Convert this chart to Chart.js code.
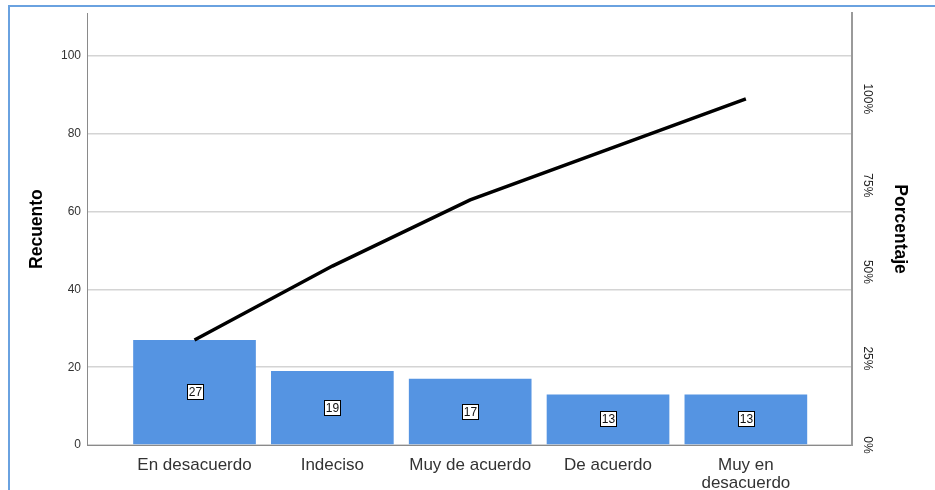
<!DOCTYPE html>
<html>
<head>
<meta charset="utf-8">
<script src="https://cdn.jsdelivr.net/npm/chart.js@4.4.1/dist/chart.umd.min.js"></script>
<style>
  body { margin: 0; background: #fff; }
  #wrap { position: relative; width: 935px; height: 490px; overflow: hidden; }
  #frame {
    position: absolute; left: 8px; top: 5px; right: -10px; bottom: -10px;
    border-top: 2px solid #6aa2e0; border-left: 2px solid #6aa2e0;
    pointer-events: none;
  }
</style>
</head>
<body>
<div id="wrap">
  <canvas id="pareto" width="935" height="490"></canvas>
  <div id="frame"></div>
</div>
<script>
// Respuestas ordenadas de mayor a menor
const categories = ['En desacuerdo', 'Indeciso', 'Muy de acuerdo', 'De acuerdo', ['Muy en', 'desacuerdo']];
const counts = [27, 19, 17, 13, 13];
const cumulative = [27, 46, 63, 76, 89];
const countTicks = [0, 20, 40, 60, 80, 100];
const pctTicks = [0, 25, 50, 75, 100];

const total = cumulative[cumulative.length - 1];
const yMax = 111;
const FONT = '"Liberation Sans", Arial, sans-serif';

// Cajas blancas con el recuento en medio de cada barra
const valueBoxes = {
    id: 'valueBoxes',
    afterDatasetsDraw(chart) {
        const ctx = chart.ctx;
        const meta = chart.getDatasetMeta(0);
        ctx.save();
        ctx.font = '12px ' + FONT;
        ctx.textAlign = 'center';
        ctx.textBaseline = 'middle';
        meta.data.forEach(function (bar, i) {
            const txt = String(counts[i]);
            const w = Math.round(ctx.measureText(txt).width) + 3;
            const h = 15;
            const cx = Math.round(bar.x);
            const cy = Math.round((bar.y + bar.base) / 2);
            const x0 = cx - Math.round(w / 2) + 0.5;
            const y0 = cy - Math.round(h / 2) + 0.5;
            ctx.fillStyle = '#fff';
            ctx.fillRect(x0, y0, w, h);
            ctx.strokeStyle = '#000';
            ctx.lineWidth = 1;
            ctx.strokeRect(x0, y0, w, h);
            ctx.fillStyle = '#111';
            ctx.fillText(txt, cx + 0.5, cy + 1);
        });
        ctx.restore();
    }
};

// Etiquetas de porcentaje giradas en el eje derecho
const pctLabels = {
    id: 'pctLabels',
    afterDraw(chart) {
        const ctx = chart.ctx;
        const scale = chart.scales.y2;
        ctx.save();
        ctx.font = '12px ' + FONT;
        ctx.fillStyle = '#222';
        ctx.textAlign = 'center';
        ctx.textBaseline = 'middle';
        pctTicks.forEach(function (p) {
            ctx.save();
            ctx.translate(scale.left + 15, scale.getPixelForValue(p));
            ctx.rotate(Math.PI / 2);
            ctx.fillText(p + '%', 0, 0);
            ctx.restore();
        });
        ctx.restore();
    }
};

document.addEventListener('DOMContentLoaded', function () {
    const ctx = document.getElementById('pareto').getContext('2d');

    new Chart(ctx, {
        data: {
            datasets: [{
                type: 'bar',
                data: counts.map(function (v, i) { return { x: i, y: v }; }),
                backgroundColor: '#5594e2',
                borderWidth: 0,
                barPercentage: 0.89,
                categoryPercentage: 1,
                order: 2,
            }, {
                type: 'line',
                data: cumulative.map(function (v, i) { return { x: i, y: v }; }),
                borderColor: '#000',
                borderWidth: 3.5,
                pointRadius: 0,
                tension: 0,
                order: 1,
            }],
        },
        options: {
            responsive: false,
            animation: false,
            layout: { padding: { top: 13, left: 0, right: 0, bottom: 0 } },
            plugins: {
                legend: { display: false },
                tooltip: { enabled: false },
            },
            scales: {
                x: {
                    type: 'linear',
                    offset: false,
                    min: -0.78,
                    max: 4.77,
                    afterBuildTicks: function (s) {
                        s.ticks = counts.map(function (v, i) { return { value: i }; });
                    },
                    afterFit: function (s) { s.height = 45; },
                    grid: { display: false, offset: false },
                    border: { display: true, color: '#8a8a8a', width: 1 },
                    ticks: {
                        autoSkip: false,
                        maxRotation: 0,
                        padding: 3,
                        color: '#333',
                        font: { family: FONT, size: 17, lineHeight: 1.06 },
                        callback: function (v) { return categories[v]; },
                    },
                },
                y: {
                    position: 'left',
                    min: 0,
                    max: yMax,
                    afterBuildTicks: function (s) {
                        s.ticks = countTicks.map(function (v) { return { value: v }; });
                    },
                    afterFit: function (s) { s.width = 87; },
                    grid: { color: '#d4d4d4', lineWidth: 1.5, drawTicks: false },
                    border: { display: true, color: '#8a8a8a', width: 1 },
                    ticks: {
                        padding: 6,
                        color: '#333',
                        font: { family: FONT, size: 12 },
                    },
                    title: {
                        display: true,
                        text: 'Recuento',
                        color: '#000',
                        font: { family: FONT, size: 17.5, weight: 'bold' },
                        padding: { top: 27, bottom: 27 },
                    },
                },
                y2: {
                    position: 'right',
                    min: 0,
                    max: yMax / total * 100,
                    afterFit: function (s) { s.width = 83; },
                    grid: { display: false, drawTicks: false },
                    border: { display: true, color: '#9a9a9a', width: 2 },
                    ticks: { display: false },
                    title: {
                        display: true,
                        text: 'Porcentaje',
                        color: '#000',
                        font: { family: FONT, size: 17.5, weight: 'bold' },
                        padding: { top: 25, bottom: 25 },
                    },
                },
            },
        },
        plugins: [valueBoxes, pctLabels],
    });
});
</script>
</body>
</html>
